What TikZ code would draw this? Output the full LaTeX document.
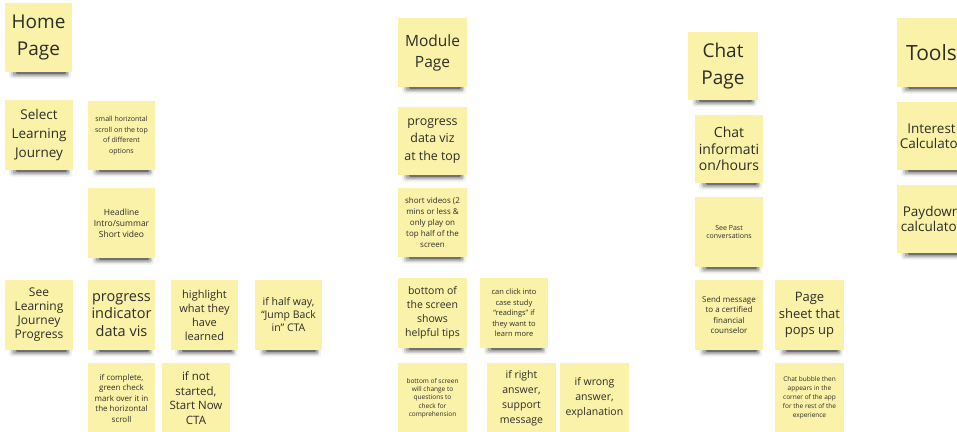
\documentclass[tikz,border=0pt]{standalone}
\usepackage{fontspec}
\setmainfont{Open Sans}
\definecolor{notebg}{RGB}{250,242,168}
\definecolor{notetext}{RGB}{45,45,40}
\pgfdeclarelayer{paper}
\pgfdeclarelayer{shadowlayer}
\pgfsetlayers{paper,shadowlayer,main}
\newcommand\fs[2]{\fontsize{#1}{#2}\selectfont}
\newcommand\noteshadow[1]{\begin{pgfonlayer}{shadowlayer}
  \fill[black, opacity=0.06, rounded corners=3pt] ([xshift=4pt,yshift=2pt]#1.south west) rectangle ([xshift=-1pt,yshift=-6.5pt]#1.south east);
  \fill[black, opacity=0.12, rounded corners=2.5pt] ([xshift=6pt,yshift=2pt]#1.south west) rectangle ([xshift=-3pt,yshift=-4.8pt]#1.south east);
  \fill[black, opacity=0.18, rounded corners=2pt] ([xshift=8pt,yshift=2pt]#1.south west) rectangle ([xshift=-4pt,yshift=-3.3pt]#1.south east);
  \fill[black, opacity=0.35, rounded corners=1.5pt] ([xshift=11pt,yshift=2pt]#1.south west) rectangle ([xshift=-6pt,yshift=-2pt]#1.south east);
  \end{pgfonlayer}}
\tikzset{
  note/.style={fill=notebg, text=notetext, inner sep=0pt, minimum width=68pt, minimum height=69pt, align=center},
}
\begin{document}
\begin{tikzpicture}[x=1pt,y=-1pt]
\useasboundingbox (0,0) rectangle (957,431);
\clip (0,0) rectangle (957,431);
\begin{pgfonlayer}{paper}
\fill[white] (0,0) rectangle (957,431);
\end{pgfonlayer}
% Home page column
\node[note, minimum width=67pt, font=\fs{19}{26.7}] (home) at (38.5,37.5) {Home\\Page};
\node[note, minimum height=70pt, font=\fs{13.5}{19}] (select) at (39,135) {Select\\Learning\\Journey};
\node[note, minimum width=67pt, font=\fs{7}{10.5}] (scroll) at (121.5,135.5) {small horizontal\\scroll on the top\\of different\\options};
\node[note, minimum width=67pt, minimum height=70pt, font=\fs{8.5}{11}] (headline) at (121.5,223) {Headline\\Intro/summar\\Short video};
\node[note, minimum height=70pt, font=\fs{12}{14}] (seeprog) at (39,315) {See\\Learning\\Journey\\Progress};
\node[note, minimum width=67pt, minimum height=70pt, font=\fs{14.5}{17.5}] (progvis) at (121.5,315) {progress\\indicator\\data vis};
\node[note, minimum width=67pt, minimum height=70pt, font=\fs{11}{14}] (highlight) at (204.5,315) {highlight\\what they\\have\\learned};
\node[note, minimum width=67pt, minimum height=70pt, font=\fs{10.5}{13}] (halfway) at (288.5,315) {if half way,\\“Jump Back\\in” CTA};
\node[note, minimum width=67pt, minimum height=70pt, font=\fs{8}{10.5}] (complete) at (121.5,398) {if complete,\\green check\\mark over it in\\the horizontal\\scroll};
\node[note, minimum height=70pt, font=\fs{11.5}{14.5}] (notstarted) at (196,398) {if not\\started,\\Start Now\\CTA};
% Module page column
\node[note, minimum width=69pt, font=\fs{15.5}{21}] (module) at (432.5,52.5) {Module\\Page};
\node[note, minimum width=69pt, minimum height=68pt, font=\fs{12.4}{17.5}] (progviz) at (432.5,141) {progress\\data viz\\at the top};
\node[note, minimum width=69pt, font=\fs{8}{11}] (shortvid) at (432.5,222.5) {short videos (2\\mins or less \&\\only play on\\top half of the\\screen};
\node[note, minimum width=69pt, minimum height=70pt, font=\fs{10.5}{14}] (bottomtips) at (432.5,313) {bottom of\\the screen\\shows\\helpful tips};
\node[note, minimum height=70pt, font=\fs{7.5}{10.5}] (clickinto) at (514,313) {can click into\\case study\\“readings” if\\they want to\\learn more};
\node[note, minimum width=69pt, minimum height=70pt, font=\fs{6.5}{8.3}] (bottomq) at (432.5,398) {bottom of screen\\will change to\\questions to\\check for\\comprehension};
\node[note, minimum width=69pt, minimum height=70pt, font=\fs{10.5}{15}] (rightans) at (521.5,398) {if right\\answer,\\support\\message};
\node[note, minimum width=69pt, minimum height=70pt, font=\fs{10.5}{15}] (wrongans) at (594.5,398) {if wrong\\answer,\\explanation};
% Chat page column
\node[note, minimum width=70pt, minimum height=68pt, font=\fs{19}{26.7}] (chatpage) at (723,66) {Chat\\Page};
\node[note, minimum height=68pt, font=\fs{14}{16.7}] (chatinfo) at (729,149) {Chat\\informati\\on/hours};
\node[note, minimum height=70pt, font=\fs{7}{8.5}] (pastconv) at (729,232) {See Past\\conversations};
\node[note, minimum height=70pt, font=\fs{8}{10.5}] (sendmsg) at (729,315) {Send message\\to a certified\\financial\\counselor};
\node[note, minimum width=69pt, minimum height=70pt, font=\fs{13}{16.5}] (pagesheet) at (809.5,315) {Page\\sheet that\\pops up};
\node[note, minimum width=69pt, minimum height=70pt, font=\fs{6.5}{9}] (bubble) at (809.5,398) {Chat bubble then\\appears in the\\corner of the app\\for the rest of the\\experience};
% Tools column
\node[note, minimum width=69pt, font=\fs{21}{26}] (tools) at (931.5,52.5) {Tools};
\node[note, minimum width=69pt, minimum height=68pt, font=\fs{13.5}{15.5}] (interest) at (931.5,136) {Interest\\Calculator};
\node[note, minimum width=69pt, minimum height=68pt, font=\fs{13.5}{15.5}] (paydown) at (931.5,219) {Paydown\\calculator};
% shadows
\foreach \n in {home,select,scroll,headline,seeprog,progvis,highlight,halfway,module,progviz,shortvid,bottomtips,clickinto,chatpage,chatinfo,pastconv,sendmsg,pagesheet,tools,interest,paydown}{\noteshadow{\n}}
\end{tikzpicture}
\end{document}
